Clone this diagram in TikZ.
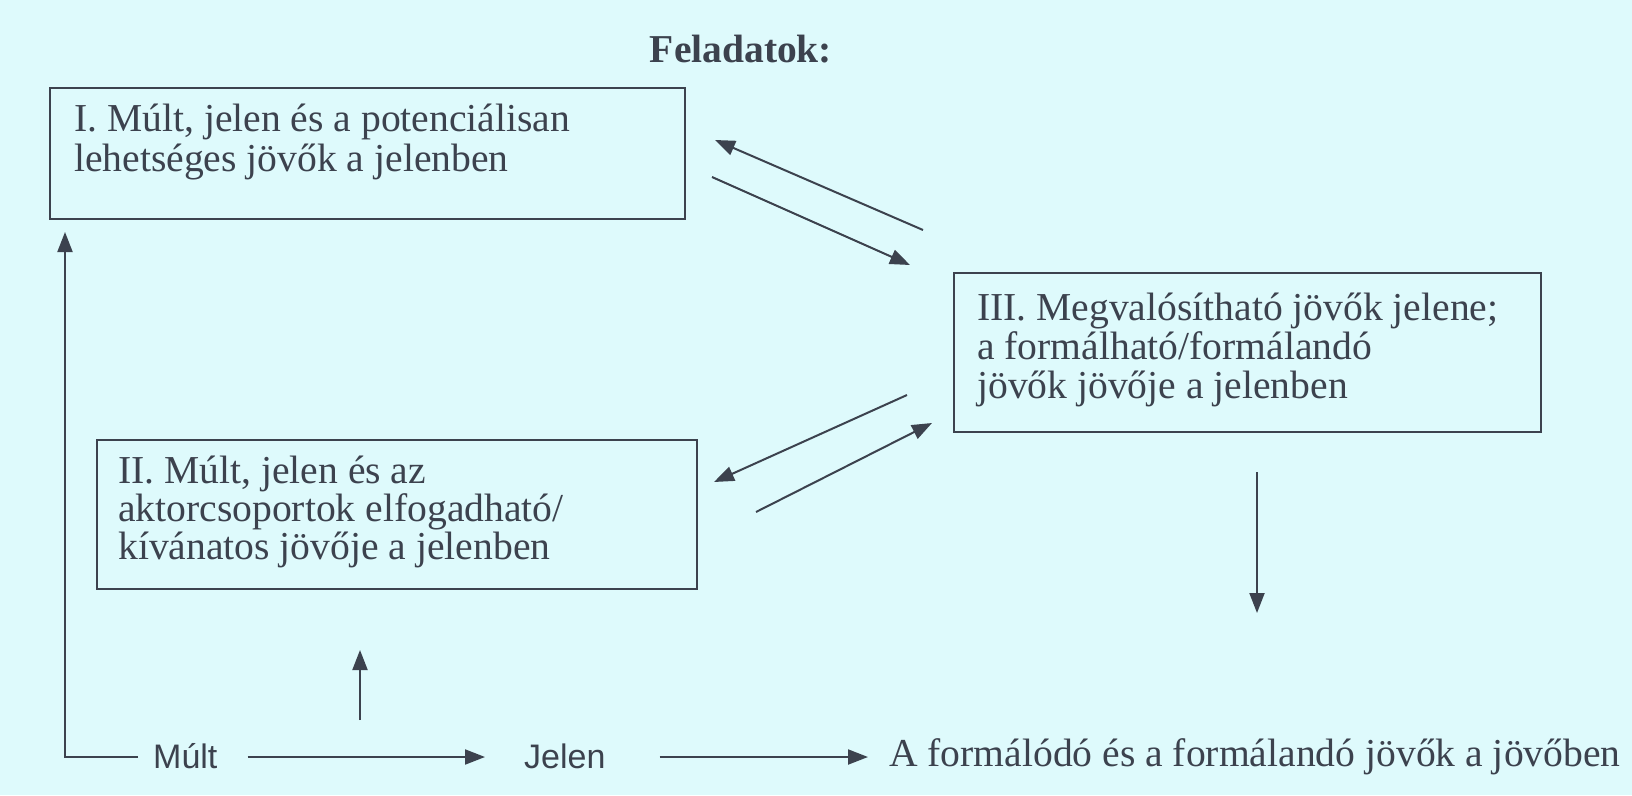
\documentclass[tikz,border=0pt]{standalone}
\usepackage{fontspec}
\setmainfont{Liberation Serif}
\newfontfamily\labsans{Liberation Sans}
\usetikzlibrary{arrows.meta,calc}
\definecolor{bgcol}{RGB}{222,250,252}
\definecolor{ink}{RGB}{60,66,78}
\begin{document}
\begin{tikzpicture}[x=1pt,y=-1pt,
  box/.style={draw=ink,line width=2.2pt,anchor=north west,inner sep=0pt},
  boxtext/.style={anchor=base west,inner sep=0pt,align=left,text=ink},
  conn/.style={draw=ink,line width=2pt,-{Triangle[length=20pt,width=15pt]}},
  bottomtext/.style={inner sep=0pt,text=ink,anchor=base west}]
\fill[bgcol] (0,0) rectangle (1632,795);
\useasboundingbox (0,0) rectangle (1632,795);
% title
\node[text=ink,font=\fontsize{39.5}{42}\selectfont\bfseries,anchor=base] (title) at (741,62) {Feladatok:};
% boxes
\node[box,minimum width=635pt,minimum height=131pt] (b1) at (49,87) {};
\node[box,minimum width=587pt,minimum height=159pt] (b3) at (953,272) {};
\node[box,minimum width=600pt,minimum height=149pt] (b2) at (96,439) {};
\node[boxtext,font=\fontsize{39.6}{40}\selectfont] (t1) at ($(b1.north west)+(25,84)$) {I. Múlt, jelen és a potenciálisan\\lehetséges jövők a jelenben};
\node[boxtext,font=\fontsize{39.6}{39}\selectfont] (t3) at ($(b3.north west)+(24,126)$) {III. Megvalósítható jövők jelene;\\a formálható/formálandó\\jövők jövője a jelenben};
\node[boxtext,font=\fontsize{39.6}{38}\selectfont] (t2) at ($(b2.north west)+(22,120)$) {II. Múlt, jelen és az\\aktorcsoportok elfogadható/\\kívánatos jövője a jelenben};
% bottom labels
\node[bottomtext,font=\labsans\fontsize{34}{36}\selectfont] (mult) at (153,768) {Múlt};
\node[bottomtext,font=\labsans\fontsize{34}{36}\selectfont] (jelen) at (524,768) {Jelen};
\node[bottomtext,font=\fontsize{39.6}{40}\selectfont] (jovo) at (889,766) {A formálódó és a formálandó jövők a jövőben};
% arrow endpoints
\coordinate (a1s) at (923,230); \coordinate (a1e) at (715,140);
\coordinate (a2s) at (712,177); \coordinate (a2e) at (910,265);
\coordinate (a3s) at (907,395); \coordinate (a3e) at (714,482);
\coordinate (a4s) at (756,512); \coordinate (a4e) at (932,423);
\coordinate (a5s) at (1257,472); \coordinate (a5e) at (1257,613);
\coordinate (a6s) at (360,720); \coordinate (a6e) at (360,650);
\coordinate (a7e) at (65,232);
\coordinate (rowy) at (0,757);
% connectors
\draw[conn] (a1s) -- (a1e);
\draw[conn] (a2s) -- (a2e);
\draw[conn] (a3s) -- (a3e);
\draw[conn] (a4s) -- (a4e);
\draw[conn] (a5s) -- (a5e);
\draw[conn] (a6s) -- (a6e);
\draw[conn] ([xshift=-15pt]mult.west |- rowy) -| (a7e);
\draw[conn] ([xshift=30pt]mult.east |- rowy) -- ([xshift=-39pt]jelen.west |- rowy);
\draw[conn] ([xshift=54pt]jelen.east |- rowy) -- ([xshift=-21pt]jovo.west |- rowy);
\end{tikzpicture}
\end{document}
